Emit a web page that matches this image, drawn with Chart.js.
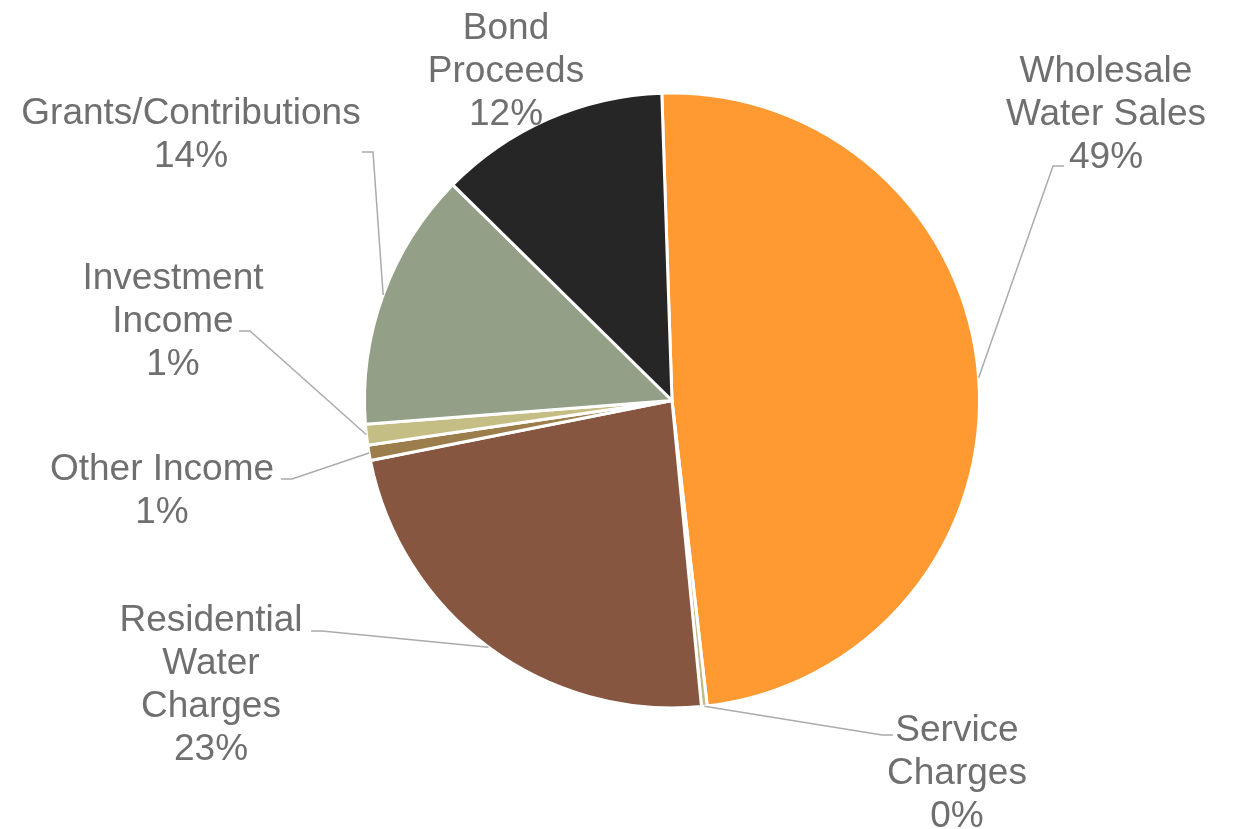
<!DOCTYPE html>
<html>
<head>
<meta charset="utf-8">
<title>Revenue Sources</title>
<script src="https://cdn.jsdelivr.net/npm/chart.js@4/dist/chart.umd.min.js"></script>
<style>
    html, body { margin: 0; padding: 0; background: #fff; }
    .chart-wrap { position: relative; width: 1237px; height: 829px; }
</style>
</head>
<body>
<div class="chart-wrap"><canvas id="revenueChart"></canvas></div>
<script>
/* =============================================
   REVENUE SOURCES PIE
   ============================================= */

// Revenue categories (each entry is the wrapped label lines)
const categories = [
    ['Wholesale', 'Water Sales'],
    ['Service', 'Charges'],
    ['Residential', 'Water', 'Charges'],
    ['Other Income'],
    ['Investment', 'Income'],
    ['Grants/Contributions'],
    ['Bond', 'Proceeds']
];

// Share of total revenue, in percent
const shares = [48.7, 0.3, 23.4, 0.8, 1.1, 13.6, 12.1];

const sliceColors = ['#FF9A33', '#C3BB80', '#875641', '#9C7D4C', '#C5BE84', '#949F87', '#262626'];

// Label placement: text centre x, first baseline y, leader elbow, side the text sits on
const labelLayout = [
    { cx: 1106, y: 82,  elbow: [1053, 166], side: 1 },
    { cx: 957,  y: 741, elbow: [882, 735],  side: 1 },
    { cx: 211,  y: 631, elbow: [322, 631],  side: -1 },
    { cx: 162,  y: 480, elbow: [292, 479],  side: -1 },
    { cx: 173,  y: 289, elbow: [250, 331],  side: -1 },
    { cx: 191,  y: 124, elbow: [373, 152],  side: -1 },
    { cx: 506,  y: 39,  elbow: null,        side: 0 }
];

const LABEL_FONT = '37px "Liberation Sans", Arial, sans-serif';
const LINE_HEIGHT = 43;
const LEADER_TAIL = 11;

// Draws the outside labels and their leader lines
const outsideLabels = {
    id: 'outsideLabels',
    afterDatasetsDraw(chart) {
        const ctx = chart.ctx;
        const meta = chart.getDatasetMeta(0);
        const values = chart.data.datasets[0].data;
        const total = values.reduce((sum, v) => sum + v, 0);

        ctx.save();
        meta.data.forEach((arc, i) => {
            const layout = labelLayout[i];
            const { x, y, startAngle, endAngle, outerRadius } =
                arc.getProps(['x', 'y', 'startAngle', 'endAngle', 'outerRadius'], true);

            // Leader line from the slice edge to the label
            if (layout.elbow) {
                const mid = (startAngle + endAngle) / 2;
                const sx = x + Math.cos(mid) * outerRadius;
                const sy = y + Math.sin(mid) * outerRadius;
                const [ex, ey] = layout.elbow;
                ctx.beginPath();
                ctx.strokeStyle = '#ABABAB';
                ctx.lineWidth = 1.5;
                ctx.moveTo(sx, sy);
                ctx.lineTo(ex, ey);
                ctx.lineTo(ex + layout.side * LEADER_TAIL, ey);
                ctx.stroke();
            }

            // Category name plus rounded percentage
            const pct = Math.round(values[i] / total * 100) + '%';
            const lines = chart.data.labels[i].concat([pct]);
            ctx.font = LABEL_FONT;
            ctx.fillStyle = '#6F6F6F';
            ctx.textAlign = 'center';
            ctx.textBaseline = 'alphabetic';
            lines.forEach((line, k) => {
                ctx.fillText(line, layout.cx, layout.y + k * LINE_HEIGHT);
            });
        });
        ctx.restore();
    }
};

const revenueCtx = document.getElementById('revenueChart');
new Chart(revenueCtx, {
    type: 'pie',
    data: {
        labels: categories,
        datasets: [{
            data: shares,
            backgroundColor: sliceColors,
            borderColor: '#FFFFFF',
            borderWidth: 3
        }]
    },
    options: {
        responsive: true,
        maintainAspectRatio: false,
        animation: false,
        rotation: -1.9,
        layout: {
            padding: { top: 91, bottom: 119, left: 363, right: 256 }
        },
        plugins: {
            legend: { display: false },
            tooltip: { enabled: false }
        }
    },
    plugins: [outsideLabels]
});
</script>
</body>
</html>
